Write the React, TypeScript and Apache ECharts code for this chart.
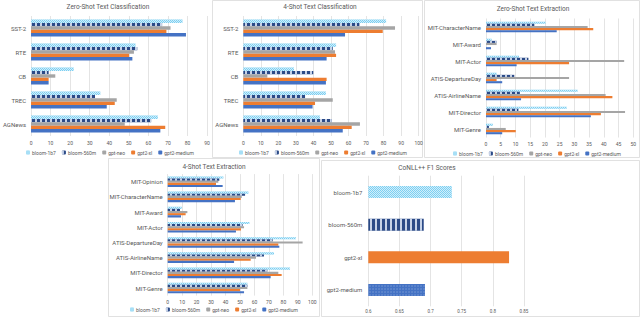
import React, { useEffect, useRef } from 'react';
import * as echarts from 'echarts';

const MODELS = ['bloom-1b7', 'bloom-560m', 'gpt-neo', 'gpt2-xl', 'gpt2-medium'];

// Zero-Shot Text Classification (top to bottom)
const zcCats = ['SST-2', 'RTE', 'CB', 'TREC', 'AGNews'];
const zcB1b7 = [77.4, 53.4, 21.8, 35.4, 64.8];
const zcB560 = [67.0, 54.3, 9.0, 32.7, 61.4];
const zcNeo = [71.3, 52.6, 12.4, 43.8, 47.9];
const zcXl = [69.2, 50.1, 9.0, 42.8, 68.6];
const zcMed = [79.2, 51.8, 9.0, 38.7, 66.1];

// 4-Shot Text Classification
const fcCats = ['SST-2', 'RTE', 'CB', 'TREC', 'AGNews'];
const fcB1b7 = [81.4, 52.9, 28.9, 47.1, 43.7];
const fcB560 = [66.2, 51.0, 39.9, 35.2, 50.4];
const fcNeo = [86.5, 52.3, 13.7, 51.0, 66.5];
const fcXl = [79.5, 52.9, 47.5, 40.9, 61.8];
const fcMed = [58.0, 47.5, 47.1, 39.5, 56.7];

// Zero-Shot Text Extraction
const zeCats = ['MIT-CharacterName', 'MIT-Award', 'MIT-Actor', 'ATIS-DepartureDay', 'ATIS-AirlineName', 'MIT-Director', 'MIT-Genre'];
const zeB1b7 = [20.2, 1.9, 11.2, 3.6, 31.1, 27.4, 2.3];
const zeB560 = [16.4, 3.6, 14.4, 9.6, 11.5, 11.0, 1.0];
const zeNeo = [34.5, 3.6, 46.9, 28.2, 40.6, 47.2, 6.7];
const zeXl = [36.4, 0, 28.2, 3.6, 42.9, 39.0, 10.1];
const zeMed = [24.0, 1.7, 10.4, 5.5, 11.9, 35.6, 5.5];

// 4-Shot Text Extraction
const feCats = ['MIT-Opinion', 'MIT-CharacterName', 'MIT-Award', 'MIT-Actor', 'ATIS-DepartureDay', 'ATIS-AirlineName', 'MIT-Director', 'MIT-Genre'];
const feB1b7 = [38.5, 55.8, 9.7, 56.5, 88.7, 73.5, 84.6, 55.1];
const feB560 = [35.7, 53.5, 8.5, 51.8, 72.6, 66.6, 68.9, 55.1];
const feNeo = [35.0, 51.2, 13.6, 52.8, 93.3, 61.1, 76.5, 55.1];
const feXl = [33.4, 50.5, 12.4, 50.7, 76.5, 57.4, 78.8, 50.0];
const feMed = [38.0, 46.5, 9.2, 47.2, 77.2, 45.9, 71.2, 52.8];

// CoNLL++ F1 Scores
const cnCats = ['bloom-1b7', 'bloom-560m', 'gpt2-xl', 'gpt2-medium'];
const cnVals = [0.734, 0.689, 0.826, 0.691];

const FONT = 'Roboto';
const TXT = '#595959';
const GRIDC = '#d9d9d9';

const COLORS: Record<string, string> = {
  'bloom-1b7': '#7ccff2',
  'bloom-560m': '#2b4a87',
  'gpt-neo': '#a5a5a5',
  'gpt2-xl': '#ed7d31',
  'gpt2-medium': '#4472c4',
};

const DECALS: Record<string, any> = {
  'bloom-1b7': {
    symbol: 'rect',
    color: 'rgba(255,255,255,0.65)',
    dashArrayX: [[1, 1], [0, 1, 1, 0]],
    dashArrayY: [1, 0],
  },
  'bloom-560m': {
    symbol: 'rect',
    color: 'rgba(215,225,242,0.9)',
    dashArrayX: [2, 3],
    dashArrayY: [1, 0],
  },
};

const App: React.FC = () => {
  const ref = useRef<HTMLDivElement>(null);

  useEffect(() => {
    if (!ref.current) return;
    const chart = echarts.init(ref.current, undefined, { renderer: 'svg' });

    const panels = [
      { left: 29.6, top: 16, width: 177.5, height: 120, cats: zcCats, max: 90, interval: 10, gap: '29%', data: [zcB1b7, zcB560, zcNeo, zcXl, zcMed] },
      { left: 243.3, top: 16, width: 175.4, height: 120, cats: fcCats, max: 100, interval: 10, gap: '29%', data: [fcB1b7, fcB560, fcNeo, fcXl, fcMed] },
      { left: 486, top: 18.5, width: 147.3, height: 119, cats: zeCats, max: 50, interval: 5, gap: '38%', data: [zeB1b7, zeB560, zeNeo, zeXl, zeMed] },
      { left: 167.7, top: 174.1, width: 144.6, height: 121.5, cats: feCats, max: 100, interval: 10, gap: '30%', data: [feB1b7, feB560, feNeo, feXl, feMed] },
    ];

    const grids: any[] = [];
    const xAxes: any[] = [];
    const yAxes: any[] = [];
    const series: any[] = [];

    panels.forEach((p, i) => {
      grids.push({ left: p.left, top: p.top, width: p.width, height: p.height, containLabel: false });
      xAxes.push({
        type: 'value', gridIndex: i, min: 0, max: p.max, interval: p.interval,
        axisLine: { show: false }, axisTick: { show: false },
        axisLabel: { fontSize: 5, color: TXT, fontFamily: FONT, margin: 4 },
        splitLine: { lineStyle: { color: GRIDC, width: 0.7 } },
      });
      yAxes.push({
        type: 'category', gridIndex: i, data: p.cats, inverse: true,
        axisLine: { show: false }, axisTick: { show: false },
        axisLabel: { fontSize: 6, color: TXT, fontFamily: FONT, margin: 5 },
      });
      MODELS.forEach((m, k) => {
        series.push({
          type: 'bar', name: m, xAxisIndex: i, yAxisIndex: i,
          data: p.data[k], barGap: '0%', barCategoryGap: p.gap,
          itemStyle: { color: COLORS[m], decal: DECALS[m] },
        });
      });
    });

    // CoNLL panel
    grids.push({ left: 368.3, top: 175.7, width: 155.7, height: 130.6 });
    xAxes.push({
      type: 'value', gridIndex: 4, min: 0.6, max: 0.85, interval: 0.05,
      axisLine: { show: false }, axisTick: { show: false },
      axisLabel: { fontSize: 4.5, color: TXT, fontFamily: FONT, margin: 3, formatter: (v: number) => String(+v.toFixed(2)) },
      splitLine: { lineStyle: { color: GRIDC, width: 0.7 } },
    });
    yAxes.push({
      type: 'category', gridIndex: 4, data: cnCats, inverse: true,
      axisLine: { show: false }, axisTick: { show: false },
      axisLabel: { fontSize: 6, color: TXT, fontFamily: FONT, margin: 6 },
    });
    series.push({
      type: 'bar', name: 'CoNLL++', xAxisIndex: 4, yAxisIndex: 4, barWidth: 12,
      data: cnVals.map((v, i) => {
        const name = cnCats[i];
        const decal = name === 'gpt2-medium'
          ? { symbol: 'circle', symbolSize: 0.6, color: 'rgba(255,255,255,0.35)', dashArrayX: [2, 1], dashArrayY: [2, 1] }
          : DECALS[name];
        return { value: v, itemStyle: { color: COLORS[name], decal } };
      }),
    });

    const legendLefts = [
      { left: 26, top: 150 },
      { left: 239, top: 150 },
      { left: 453, top: 151 },
      { left: 130, top: 307 },
    ];
    const legends = legendLefts.map((l) => ({
      left: l.left, top: l.top, orient: 'horizontal', itemWidth: 4, itemHeight: 4, itemGap: 6,
      selectedMode: false, data: MODELS, padding: 0,
      textStyle: { fontSize: 5, color: TXT, fontFamily: FONT, padding: [0, 0, 0, -3] },
    }));

    const title = (text: string, x: number, y: number) => ({
      type: 'text', x, y,
      style: { text, fill: TXT, font: `6.5px ${FONT}`, textAlign: 'center', textVerticalAlign: 'middle' },
      silent: true,
    });
    const border = (x: number, y: number, w: number, h: number) => ({
      type: 'rect', shape: { x, y, width: w, height: h },
      style: { fill: 'none', stroke: GRIDC, lineWidth: 0.8 }, silent: true, z: -10,
    });

    chart.setOption({
      animation: false,
      backgroundColor: '#ffffff',
      grid: grids,
      xAxis: xAxes,
      yAxis: yAxes,
      legend: legends,
      series,
      graphic: [
        border(212.5, 0.5, 210, 157),
        border(424.5, 0.5, 215, 157),
        border(108.5, 158.5, 211, 158),
        border(321.5, 160.5, 318, 156),
        title('Zero-Shot Text Classification', 108, 7),
        title('4-Shot Text Classification', 320, 7),
        title('Zero-Shot Text Extraction', 533, 9),
        title('4-Shot Text Extraction', 214, 167),
        title('CoNLL++ F1 Scores', 427, 168),
      ],
    });

    return () => chart.dispose();
  }, []);

  return (
    <div
      ref={ref}
      style={{ position: 'absolute', left: 0, top: 0, width: 640, height: 317, background: '#fff' }}
    />
  );
};

export default App;
